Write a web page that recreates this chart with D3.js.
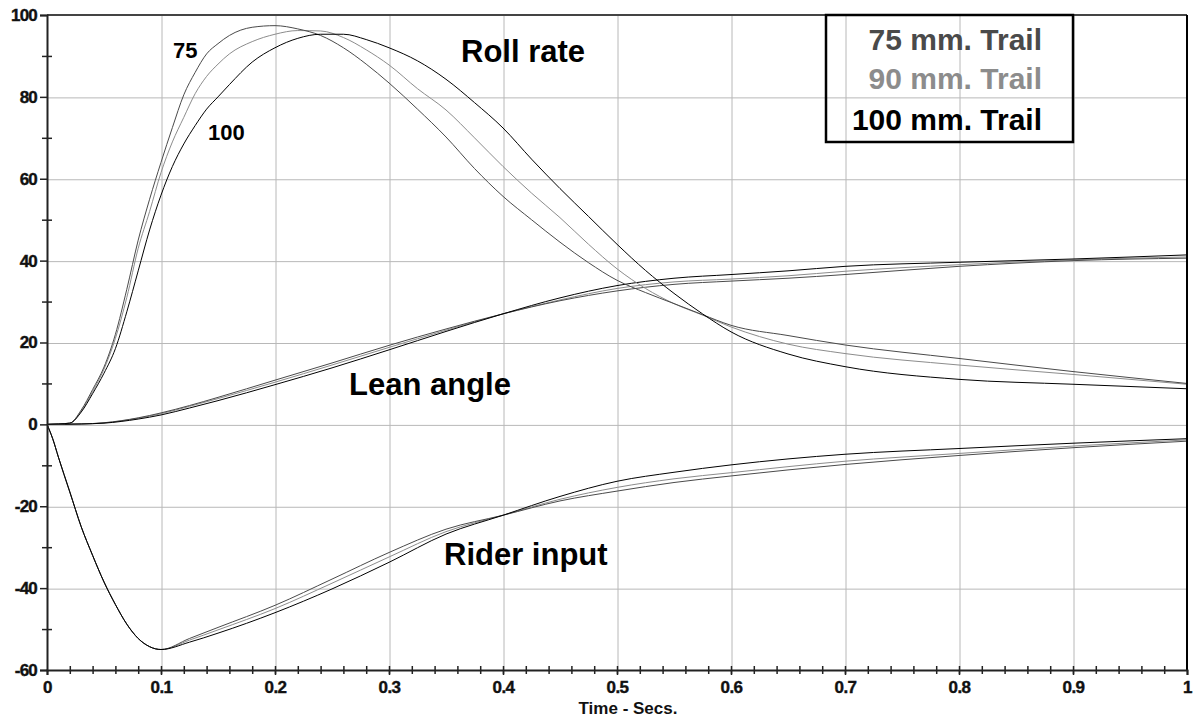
<!DOCTYPE html>
<html>
<head>
<meta charset="utf-8">
<script src="https://cdn.jsdelivr.net/npm/d3@7"></script>
<style>
  body { margin: 0; background: #fff; }
  text { font-family: "Liberation Sans", Arial, sans-serif; font-weight: bold; }
</style>
</head>
<body>
<div id="chart"></div>
<script>
// Roll rate, three trail settings
const rollTime = [0, 0.01, 0.02, 0.03, 0.04, 0.05, 0.06, 0.07, 0.08, 0.09, 0.1, 0.11, 0.12, 0.13, 0.14, 0.15, 0.16, 0.18, 0.2, 0.22,
    0.24, 0.26, 0.28, 0.3, 0.325, 0.35, 0.375, 0.4, 0.425, 0.45, 0.475, 0.5, 0.525, 0.55, 0.575, 0.6, 0.65, 0.7, 0.8, 0.9, 1.0];
const roll75 = [0, 0.1, 0.3, 3.5, 8.5, 14, 22, 33, 45, 55, 64, 72.5, 80.5, 86, 90.5, 93, 95, 97, 97.4, 96.6,
    95, 92, 88, 83.4, 77, 70.2, 62.5, 55.7, 50, 44.5, 39.5, 35.2, 32.2, 29.5, 26.8, 24.2, 21.7, 19.4, 16.1, 12.9, 10.0];
const roll90 = [0, 0.1, 0.3, 3.2, 8, 13.5, 21, 31, 43, 52, 61.5, 69, 75, 80.8, 85, 88, 90.5, 93.5, 95.3, 96.2,
    96.1, 94.5, 91.5, 87.8, 82, 76.8, 70, 63, 56.5, 50.5, 44, 38, 33.2, 29.5, 26.7, 23.8, 19.6, 17.3, 14.5, 12.2, 9.8];
const roll100 = [0, 0.1, 0.3, 3, 7.5, 12.5, 18.5, 27.5, 37.5, 47.5, 56, 63, 68.5, 73, 77, 80, 83, 88.5, 92, 94.3,
    95.3, 95.3, 94.0, 92.0, 88.8, 84.3, 78.6, 72.4, 64.8, 57.6, 50.8, 44.0, 37.6, 32.0, 27.0, 22.6, 17.2, 14.1, 11.0, 9.8, 8.7];

// Lean angle
const leanTime = [0, 0.03, 0.05, 0.08, 0.1, 0.125, 0.15, 0.2, 0.25, 0.3, 0.35, 0.4, 0.45, 0.5, 0.55, 0.6, 0.65, 0.7, 0.8, 0.9, 1.0];
const lean75 = [0, 0.1, 0.4, 1.6, 2.8, 4.6, 6.6, 10.8, 15.0, 19.3, 23.3, 27.0, 30.2, 32.6, 34.2, 35.0, 35.7, 36.6, 38.6, 40.0, 40.6];
const lean90 = [0, 0.1, 0.35, 1.5, 2.6, 4.4, 6.3, 10.3, 14.5, 18.8, 23.0, 27.0, 30.4, 33.2, 34.8, 35.5, 36.3, 37.4, 39.0, 40.2, 40.9];
const lean100 = [0, 0.1, 0.3, 1.3, 2.3, 4.0, 5.8, 9.7, 13.8, 18.2, 22.7, 27.0, 30.9, 33.9, 35.7, 36.6, 37.5, 38.6, 39.6, 40.4, 41.4];

// Rider input
const riderTime = [0, 0.005, 0.01, 0.015, 0.02, 0.03, 0.04, 0.05, 0.06, 0.07, 0.08, 0.09, 0.1,
    0.125, 0.15, 0.2, 0.25, 0.3, 0.35, 0.4, 0.45, 0.5, 0.55, 0.6, 0.7, 0.8, 0.9, 1.0];
const rider75 = [0, -3.5, -8, -12.3, -16.5, -25, -32, -38.5, -44, -48.8, -52.3, -54.3, -55,
    -52.3, -49.6, -44.2, -37.8, -31.3, -25.6, -22.2, -18.7, -16.3, -14.2, -12.6, -9.8, -7.6, -5.7, -4.1];
const rider90 = [0, -3.5, -8, -12.3, -16.5, -25, -32, -38.5, -44, -48.8, -52.3, -54.3, -55,
    -52.7, -50.2, -45.0, -38.8, -32.4, -26.2, -22.2, -18.3, -15.4, -13.3, -11.8, -9.0, -7.1, -5.3, -3.8];
const rider100 = [0, -3.5, -8, -12.3, -16.5, -25, -32, -38.5, -44, -48.8, -52.3, -54.3, -55,
    -53.2, -51.0, -46.0, -40.2, -33.7, -26.8, -22.2, -17.6, -13.9, -11.7, -9.9, -7.3, -5.9, -4.6, -3.5];

const trailNames = ["75 mm. Trail", "90 mm. Trail", "100 mm. Trail"];
const trailColors = ["#4a4a4a", "#8c8c8c", "#000000"];
const xMajor = [0, 0.1, 0.2, 0.3, 0.4, 0.5, 0.6, 0.7, 0.8, 0.9, 1];
const yMajor = [-60, -40, -20, 0, 20, 40, 60, 80, 100];

const W = 1196, H = 718;
const svg = d3.select("#chart").append("svg").attr("width", W).attr("height", H);

const x = d3.scaleLinear().domain([0, 1]).range([47, 1187]);
const y = d3.scaleLinear().domain([-60, 100]).range([670, 15]);

// Gridlines
svg.append("g")
    .attr("transform", `translate(0.5,${y(100)})`)
    .call(d3.axisBottom(x).tickValues(xMajor.slice(1, -1)).tickSize(655).tickFormat(""))
    .call(g => g.select(".domain").remove())
    .selectAll("line").attr("stroke", "#b8b8b8");
svg.append("g")
    .attr("transform", `translate(${x(0)},0.5)`)
    .call(d3.axisRight(y).tickValues(yMajor.slice(1, -1)).tickSize(1140).tickFormat(""))
    .call(g => g.select(".domain").remove())
    .selectAll("line").attr("stroke", "#b8b8b8");

// Series
const line = d3.line().x(d => x(d[0])).y(d => y(d[1])).curve(d3.curveMonotoneX);
const series = [
    [riderTime, rider90, 1], [riderTime, rider75, 0], [riderTime, rider100, 2],
    [leanTime, lean90, 1], [leanTime, lean75, 0], [leanTime, lean100, 2],
    [rollTime, roll90, 1], [rollTime, roll75, 0], [rollTime, roll100, 2]
];
svg.append("g").selectAll("path").data(series).join("path")
    .attr("d", s => line(s[0].map((t, i) => [t, s[1][i]])))
    .attr("fill", "none")
    .attr("stroke", s => trailColors[s[2]])
    .attr("stroke-width", 1);

// Frame
svg.append("line").attr("x1", x(0)).attr("x2", x(1)).attr("y1", y(100)).attr("y2", y(100))
    .attr("stroke", "#444").attr("stroke-width", 2);
svg.append("line").attr("x1", x(1)).attr("x2", x(1)).attr("y1", y(100)).attr("y2", y(-60))
    .attr("stroke", "#000").attr("stroke-width", 2);

// Y axis: major ticks with labels, minor ticks crossing the axis
const yAxis = svg.append("g").attr("transform", `translate(${x(0)},0)`)
    .call(d3.axisLeft(y).tickValues(yMajor).tickSize(7).tickPadding(3).tickFormat(d => String(d)));
yAxis.select(".domain").attr("stroke", "#222").attr("stroke-width", 2);
yAxis.selectAll("line").attr("stroke", "#222").attr("stroke-width", 1.5);
yAxis.selectAll("text").attr("font-size", 17).attr("font-weight", "bold").attr("fill", "#111")
    .attr("stroke", "#111").attr("stroke-width", 0.4)
    .attr("letter-spacing", -0.8).style("font-family", "'Liberation Sans', Arial, sans-serif");
svg.append("g").attr("transform", `translate(${x(0) + 5},0)`)
    .call(d3.axisLeft(y).tickValues(d3.range(-50, 100, 20)).tickSize(10).tickFormat(""))
    .call(g => g.select(".domain").remove())
    .selectAll("line").attr("stroke", "#222").attr("stroke-width", 1.5);

// X axis
const xAxis = svg.append("g").attr("transform", `translate(0,${y(-60)})`)
    .call(d3.axisBottom(x).tickValues(xMajor).tickSize(5).tickPadding(6).tickFormat(d => String(d)));
xAxis.select(".domain").attr("stroke", "#222").attr("stroke-width", 2);
xAxis.selectAll("line").attr("stroke", "#222").attr("stroke-width", 1.5);
xAxis.selectAll("text").attr("font-size", 17).attr("font-weight", "bold").attr("fill", "#111")
    .attr("stroke", "#111").attr("stroke-width", 0.4)
    .attr("letter-spacing", -0.6).style("font-family", "'Liberation Sans', Arial, sans-serif");
svg.append("g").attr("transform", `translate(0,${y(-60) - 4})`)
    .call(d3.axisBottom(x).tickValues(d3.range(0.02, 1, 0.02)).tickSize(8).tickFormat(""))
    .call(g => g.select(".domain").remove())
    .selectAll("line").attr("stroke", "#222").attr("stroke-width", 1.5);

svg.append("text").attr("x", 628).attr("y", 714).attr("text-anchor", "middle")
    .attr("font-size", 17).attr("fill", "#111").text("Time - Secs.");

// Curve labels
const labels = [
    ["Roll rate", 461, 61.5, 31], ["Lean angle", 349, 395, 31], ["Rider input", 444, 565, 31],
    ["75", 173, 58, 22], ["100", 208, 140, 22]
];
svg.append("g").selectAll("text").data(labels).join("text")
    .attr("x", d => d[1]).attr("y", d => d[2]).attr("font-size", d => d[3])
    .attr("fill", "#000").text(d => d[0]);

// Legend
svg.append("rect").attr("x", 826).attr("y", 15).attr("width", 247).attr("height", 127)
    .attr("fill", "none").attr("stroke", "#000").attr("stroke-width", 2.5);
svg.append("g").selectAll("text").data(trailNames).join("text")
    .attr("x", 1042).attr("y", (d, i) => [50, 89, 130][i])
    .attr("text-anchor", "end").attr("font-size", 30)
    .attr("fill", (d, i) => trailColors[i]).text(d => d);
</script>
</body>
</html>
